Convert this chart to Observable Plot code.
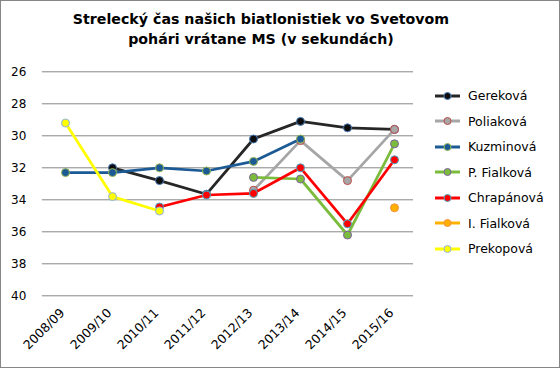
<!DOCTYPE html>
<html><head><meta charset="utf-8">
<script src="https://cdn.jsdelivr.net/npm/d3@7"></script>
<script src="https://cdn.jsdelivr.net/npm/@observablehq/plot@0.6"></script>
<style>
body{margin:0;background:#fff;}
#wrap{position:relative;width:560px;height:368px;box-sizing:border-box;border:1px solid #868686;background:#fff;overflow:hidden;font-family:"DejaVu Sans",sans-serif;}
#title{position:absolute;left:0;top:0;width:520px;height:59px;text-align:center;font-weight:bold;font-size:14.2px;line-height:20px;padding-top:8px;box-sizing:border-box;color:#000;}
#chart{position:absolute;left:0;top:59px;}
#legend{position:absolute;left:432px;top:82px;font-size:12.5px;color:#000;}
.li{height:25.5px;display:flex;align-items:center;}
.li svg{margin-right:7px;}
</style></head>
<body>
<div id="wrap">
<div id="title">Strelecký čas našich biatlonistiek vo Svetovom<br>pohári vrátane MS (v sekundách)</div>
<div id="chart"></div>
<div id="legend"></div>
</div>
<script>
const seasons = ["2008/09","2009/10","2010/11","2011/12","2012/13","2013/14","2014/15","2015/16"];
const names = ["Gereková","Poliaková","Kuzminová","P. Fialková","Chrapánová","I. Fialková","Prekopová"];
const gerekova   = [null, 32.0, 32.8, 33.65, 30.2, 29.1, 29.5, 29.6];
const poliakova  = [null, null, null, null, 33.4, 30.3, 32.8, 29.6];
const kuzminova  = [32.3, 32.3, 32.0, 32.2, 31.6, 30.2, null, null];
const pFialkova  = [null, null, null, null, 32.6, 32.7, 36.2, 30.5];
const chrapanova = [null, null, 34.45, 33.7, 33.6, 32.0, 35.5, 31.5];
const iFialkova  = [null, null, null, null, null, null, null, 34.5];
const prekopova  = [29.2, 33.8, 34.7, null, null, null, null, null];
const yTicks = [26,28,30,32,34,36,38,40];

const seriesValues = [gerekova, poliakova, kuzminova, pFialkova, chrapanova, iFialkova, prekopova];
const lineColors = ["#262626","#a6a6a6","#1c5a96","#7cbc3c","#ff0000","#ffb000","#ffff00"];
const markFill   = ["#0d0d0d","#a6a6a6","#1c5a96","#7cbc3c","#ff0000","#ffb000","#ffff00"];
const markStroke = ["#4a7ebb","#be4b48","#98b954","#7d60a0","#46aac5","#f69240","#8db3e2"];

const series = names.map((n,i)=>({
  name:n,
  data: seasons.map((s,j)=>({season:s, value: seriesValues[i][j]})).filter(d=>d.value!=null)
}));

const marks = [
  Plot.ruleY(yTicks, {stroke:"#868686", strokeWidth:1, insetLeft:3, insetRight:6.5}),
  Plot.axisY({ticks:yTicks, tickSize:0, tickPadding:13, fontSize:12, fill:"#000"}),
  Plot.axisX({tickSize:0, tickRotate:-45, tickPadding:15, dx:-3, fontSize:12.5, fill:"#000"})
];
series.forEach((s,i)=>{
  marks.push(Plot.line(s.data, {x:"season", y:"value", stroke:lineColors[i], strokeWidth:2.75, strokeLinejoin:"round", strokeLinecap:"round"}));
  marks.push(Plot.dot(s.data, {x:"season", y:"value", r:4, fill:markFill[i], stroke:markStroke[i], strokeWidth:1}));
});

const plot = Plot.plot({
  width:558, height:307,
  marginLeft:37.9, marginRight:139.5, marginTop:11.3, marginBottom:71.7,
  style:{fontFamily:"DejaVu Sans, sans-serif", color:"#000", background:"#fff"},
  x:{type:"point", domain:seasons, padding:0.5, label:null},
  y:{domain:[26,40], reverse:true, label:null},
  marks
});
document.getElementById("chart").appendChild(plot);

const leg = document.getElementById("legend");
names.forEach((n,i)=>{
  const d = document.createElement("div");
  d.className="li";
  d.innerHTML = `<svg width="28" height="12"><line x1="2" x2="27" y1="6" y2="6" stroke="${lineColors[i]}" stroke-width="3"/><circle cx="14.5" cy="6" r="3.5" fill="${markFill[i]}" stroke="${markStroke[i]}" stroke-width="1"/></svg><span>${n}</span>`;
  leg.appendChild(d);
});
</script>
</body></html>
